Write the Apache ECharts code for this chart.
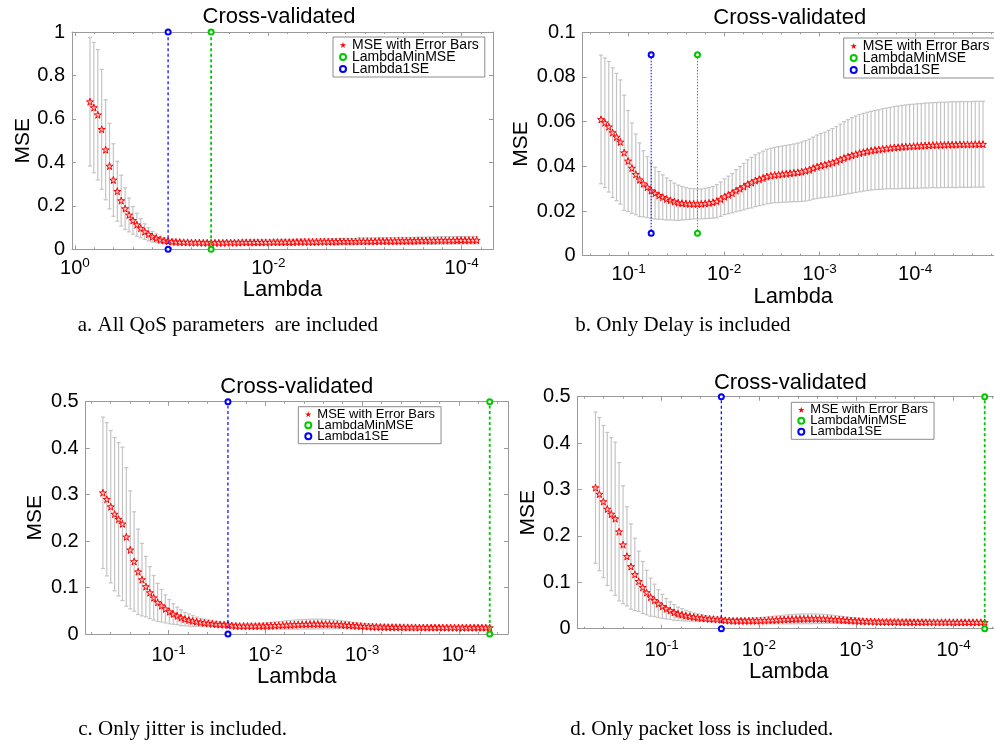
<!DOCTYPE html>
<html><head><meta charset="utf-8">
<script src="https://cdn.jsdelivr.net/npm/echarts@6/dist/echarts.min.js"></script>
<style>html,body{margin:0;padding:0;background:#fff}#c{width:994px;height:745px}</style>
</head><body><div id="c"></div><script>
// ---------- DATA (x values are log10(Lambda)) ----------
const lambdaAll = [-0.155,-0.195,-0.236,-0.276,-0.317,-0.357,-0.397,-0.438,-0.478,-0.519,
-0.559,-0.599,-0.640,-0.680,-0.721,-0.761,-0.801,-0.842,-0.882,-0.923,
-0.963,-1.003,-1.044,-1.084,-1.125,-1.165,-1.205,-1.246,-1.286,-1.327,
-1.367,-1.408,-1.448,-1.488,-1.529,-1.569,-1.610,-1.650,-1.690,-1.731,
-1.771,-1.812,-1.852,-1.892,-1.933,-1.973,-2.014,-2.054,-2.094,-2.135,
-2.175,-2.216,-2.256,-2.296,-2.337,-2.377,-2.418,-2.458,-2.498,-2.539,
-2.579,-2.620,-2.660,-2.700,-2.741,-2.781,-2.822,-2.862,-2.902,-2.943,
-2.983,-3.024,-3.064,-3.104,-3.145,-3.185,-3.226,-3.266,-3.307,-3.347,
-3.387,-3.428,-3.468,-3.509,-3.549,-3.589,-3.630,-3.670,-3.711,-3.751,
-3.791,-3.832,-3.872,-3.913,-3.953,-3.993,-4.034,-4.074,-4.115,-4.155];
const mseAll = [0.679,0.652,0.619,0.552,0.458,0.383,0.319,0.267,0.224,0.187,
0.158,0.133,0.113,0.097,0.081,0.069,0.058,0.051,0.044,0.040,
0.037,0.035,0.034,0.033,0.032,0.032,0.031,0.031,0.031,0.030,
0.030,0.030,0.030,0.030,0.030,0.031,0.031,0.031,0.031,0.032,
0.032,0.032,0.032,0.032,0.032,0.032,0.032,0.033,0.033,0.033,
0.033,0.033,0.033,0.034,0.034,0.034,0.034,0.034,0.034,0.035,
0.035,0.035,0.035,0.035,0.036,0.036,0.036,0.036,0.036,0.037,
0.037,0.037,0.037,0.037,0.038,0.038,0.038,0.038,0.038,0.039,
0.039,0.039,0.039,0.039,0.040,0.040,0.040,0.040,0.040,0.041,
0.041,0.041,0.041,0.041,0.042,0.042,0.042,0.042,0.042,0.042];
const seAll = [0.296,0.300,0.300,0.276,0.230,0.197,0.167,0.138,0.117,0.096,
0.078,0.064,0.053,0.044,0.036,0.030,0.024,0.020,0.016,0.013,
0.011,0.010,0.009,0.009,0.008,0.008,0.008,0.008,0.008,0.008,
0.008,0.008,0.008,0.008,0.009,0.009,0.009,0.009,0.010,0.010,
0.010,0.011,0.011,0.011,0.011,0.011,0.011,0.011,0.012,0.012,
0.012,0.012,0.012,0.012,0.012,0.013,0.013,0.013,0.013,0.013,
0.013,0.013,0.014,0.014,0.014,0.014,0.014,0.014,0.014,0.015,
0.015,0.015,0.015,0.015,0.015,0.015,0.015,0.016,0.016,0.016,
0.016,0.016,0.016,0.016,0.016,0.016,0.016,0.017,0.017,0.017,
0.017,0.017,0.017,0.017,0.017,0.017,0.017,0.017,0.017,0.017];
const lambdaMinAll = -1.408, lambda1seAll = -0.963;

const lambdaDelay = [-0.710,-0.750,-0.791,-0.831,-0.872,-0.912,-0.952,-0.993,-1.033,-1.074,
-1.114,-1.154,-1.195,-1.235,-1.276,-1.316,-1.356,-1.397,-1.437,-1.478,
-1.518,-1.558,-1.599,-1.639,-1.680,-1.720,-1.760,-1.801,-1.841,-1.882,
-1.922,-1.963,-2.003,-2.043,-2.084,-2.124,-2.165,-2.205,-2.245,-2.286,
-2.326,-2.367,-2.407,-2.447,-2.488,-2.528,-2.569,-2.609,-2.649,-2.690,
-2.730,-2.771,-2.811,-2.851,-2.892,-2.932,-2.973,-3.013,-3.053,-3.094,
-3.134,-3.175,-3.215,-3.255,-3.296,-3.336,-3.377,-3.417,-3.457,-3.498,
-3.538,-3.579,-3.619,-3.659,-3.700,-3.740,-3.781,-3.821,-3.862,-3.902,
-3.942,-3.983,-4.023,-4.064,-4.104,-4.144,-4.185,-4.225,-4.266,-4.306,
-4.346,-4.387,-4.427,-4.468,-4.508,-4.548,-4.589,-4.629,-4.670,-4.710];
const mseDelay = [0.0610,0.0595,0.0577,0.0551,0.0531,0.0509,0.0461,0.0424,0.0392,0.0364,
0.0340,0.0322,0.0307,0.0291,0.0280,0.0270,0.0262,0.0254,0.0248,0.0242,
0.0237,0.0235,0.0233,0.0232,0.0232,0.0232,0.0232,0.0234,0.0236,0.0239,
0.0244,0.0253,0.0264,0.0272,0.0280,0.0291,0.0300,0.0309,0.0320,0.0327,
0.0336,0.0342,0.0348,0.0354,0.0358,0.0361,0.0363,0.0365,0.0367,0.0369,
0.0371,0.0373,0.0376,0.0380,0.0385,0.0392,0.0398,0.0403,0.0407,0.0412,
0.0417,0.0423,0.0430,0.0437,0.0443,0.0449,0.0454,0.0459,0.0463,0.0467,
0.0470,0.0473,0.0475,0.0478,0.0480,0.0482,0.0484,0.0485,0.0487,0.0488,
0.0489,0.0490,0.0491,0.0492,0.0493,0.0494,0.0495,0.0495,0.0496,0.0496,
0.0497,0.0497,0.0497,0.0498,0.0498,0.0498,0.0498,0.0499,0.0499,0.0499];
const seDelay = [0.0288,0.0290,0.0292,0.0290,0.0285,0.0278,0.0258,0.0226,0.0202,0.0181,
0.0165,0.0148,0.0137,0.0125,0.0116,0.0107,0.0100,0.0094,0.0088,0.0083,
0.0079,0.0075,0.0072,0.0069,0.0068,0.0067,0.0067,0.0068,0.0069,0.0071,
0.0074,0.0077,0.0080,0.0084,0.0088,0.0094,0.0099,0.0104,0.0109,0.0113,
0.0116,0.0118,0.0120,0.0122,0.0123,0.0124,0.0125,0.0126,0.0127,0.0128,
0.0129,0.0131,0.0133,0.0135,0.0137,0.0139,0.0142,0.0144,0.0146,0.0149,
0.0152,0.0155,0.0159,0.0163,0.0166,0.0169,0.0171,0.0173,0.0174,0.0175,
0.0176,0.0177,0.0178,0.0180,0.0181,0.0182,0.0184,0.0185,0.0186,0.0187,
0.0188,0.0188,0.0189,0.0189,0.0190,0.0190,0.0190,0.0191,0.0191,0.0191,
0.0191,0.0192,0.0192,0.0192,0.0192,0.0192,0.0192,0.0192,0.0192,0.0192];
const lambdaMinDelay = -1.720, lambda1seDelay = -1.235;

const lambdaJitter = [-0.320,-0.360,-0.401,-0.441,-0.482,-0.522,-0.562,-0.603,-0.643,-0.684,
-0.724,-0.764,-0.805,-0.845,-0.886,-0.926,-0.966,-1.007,-1.047,-1.088,
-1.128,-1.168,-1.209,-1.249,-1.290,-1.330,-1.370,-1.411,-1.451,-1.492,
-1.532,-1.573,-1.613,-1.653,-1.694,-1.734,-1.775,-1.815,-1.855,-1.896,
-1.936,-1.977,-2.017,-2.057,-2.098,-2.138,-2.179,-2.219,-2.259,-2.300,
-2.340,-2.381,-2.421,-2.461,-2.502,-2.542,-2.583,-2.623,-2.663,-2.704,
-2.744,-2.785,-2.825,-2.865,-2.906,-2.946,-2.987,-3.027,-3.067,-3.108,
-3.148,-3.189,-3.229,-3.269,-3.310,-3.350,-3.391,-3.431,-3.472,-3.512,
-3.552,-3.593,-3.633,-3.674,-3.714,-3.754,-3.795,-3.835,-3.876,-3.916,
-3.956,-3.997,-4.037,-4.078,-4.118,-4.158,-4.199,-4.239,-4.280,-4.320];
const mseJitter = [0.304,0.290,0.274,0.258,0.247,0.237,0.209,0.181,0.156,0.134,
0.117,0.102,0.089,0.078,0.068,0.061,0.054,0.048,0.043,0.039,
0.035,0.032,0.030,0.028,0.0265,0.025,0.024,0.023,0.022,0.021,
0.0205,0.020,0.0195,0.018,0.0175,0.017,0.017,0.017,0.017,0.017,
0.0172,0.0172,0.0175,0.0178,0.0182,0.0186,0.0190,0.0194,0.0198,0.0202,
0.0205,0.0208,0.0210,0.0212,0.0213,0.0214,0.0214,0.0213,0.0211,0.0208,
0.0204,0.0199,0.0193,0.0187,0.0181,0.0175,0.0170,0.0165,0.0161,0.0157,
0.0154,0.0151,0.0149,0.0147,0.0146,0.0145,0.0144,0.0143,0.0142,0.0142,
0.0141,0.0140,0.0140,0.0140,0.0139,0.0139,0.0139,0.0138,0.0138,0.0138,
0.0138,0.0137,0.0137,0.0137,0.0137,0.0137,0.0137,0.0137,0.0137,0.0136];
const seJitter = [0.163,0.165,0.164,0.165,0.165,0.165,0.149,0.127,0.107,0.092,
0.078,0.065,0.056,0.048,0.041,0.035,0.030,0.026,0.022,0.019,
0.0170,0.0145,0.0130,0.0115,0.0100,0.0088,0.0078,0.0070,0.0063,0.0057,
0.0052,0.0048,0.0045,0.0044,0.0044,0.0045,0.0046,0.0048,0.0050,0.0053,
0.0056,0.0060,0.0065,0.0070,0.0075,0.0080,0.0085,0.0090,0.0094,0.0097,
0.0100,0.0102,0.0104,0.0105,0.0105,0.0105,0.0104,0.0102,0.0099,0.0095,
0.0090,0.0085,0.0080,0.0075,0.0070,0.0066,0.0062,0.0059,0.0056,0.0054,
0.0052,0.0051,0.0050,0.0049,0.0048,0.0048,0.0047,0.0047,0.0047,0.0046,
0.0046,0.0046,0.0046,0.0046,0.0046,0.0046,0.0046,0.0046,0.0046,0.0046,
0.0046,0.0046,0.0046,0.0046,0.0046,0.0046,0.0046,0.0046,0.0046,0.0046];
const lambdaMinJitter = -4.320, lambda1seJitter = -1.613;

const lambdaLoss = [-0.320,-0.360,-0.401,-0.441,-0.482,-0.522,-0.562,-0.603,-0.643,-0.684,
-0.724,-0.764,-0.805,-0.845,-0.886,-0.926,-0.966,-1.007,-1.047,-1.088,
-1.128,-1.168,-1.209,-1.249,-1.290,-1.330,-1.370,-1.411,-1.451,-1.492,
-1.532,-1.573,-1.613,-1.653,-1.694,-1.734,-1.775,-1.815,-1.855,-1.896,
-1.936,-1.977,-2.017,-2.057,-2.098,-2.138,-2.179,-2.219,-2.259,-2.300,
-2.340,-2.381,-2.421,-2.461,-2.502,-2.542,-2.583,-2.623,-2.663,-2.704,
-2.744,-2.785,-2.825,-2.865,-2.906,-2.946,-2.987,-3.027,-3.067,-3.108,
-3.148,-3.189,-3.229,-3.269,-3.310,-3.350,-3.391,-3.431,-3.472,-3.512,
-3.552,-3.593,-3.633,-3.674,-3.714,-3.754,-3.795,-3.835,-3.876,-3.916,
-3.956,-3.997,-4.037,-4.078,-4.118,-4.158,-4.199,-4.239,-4.280,-4.320];
const mseLoss = [0.304,0.290,0.274,0.258,0.247,0.237,0.209,0.181,0.156,0.134,
0.117,0.102,0.089,0.078,0.068,0.061,0.054,0.048,0.043,0.039,
0.035,0.032,0.030,0.028,0.0265,0.025,0.024,0.023,0.022,0.021,
0.0205,0.020,0.0195,0.018,0.0175,0.017,0.017,0.017,0.017,0.017,
0.0172,0.0172,0.0175,0.0178,0.0182,0.0186,0.0190,0.0194,0.0198,0.0202,
0.0205,0.0208,0.0210,0.0212,0.0213,0.0214,0.0214,0.0213,0.0211,0.0208,
0.0204,0.0199,0.0193,0.0187,0.0181,0.0175,0.0170,0.0165,0.0161,0.0157,
0.0154,0.0151,0.0149,0.0147,0.0146,0.0145,0.0144,0.0143,0.0142,0.0142,
0.0141,0.0140,0.0140,0.0140,0.0139,0.0139,0.0139,0.0138,0.0138,0.0138,
0.0138,0.0137,0.0137,0.0137,0.0137,0.0137,0.0137,0.0137,0.0137,0.0136];
const seLoss = [0.163,0.165,0.164,0.165,0.165,0.165,0.149,0.127,0.107,0.092,
0.078,0.065,0.056,0.048,0.041,0.035,0.030,0.026,0.022,0.019,
0.0170,0.0145,0.0130,0.0115,0.0100,0.0088,0.0078,0.0070,0.0063,0.0057,
0.0052,0.0048,0.0045,0.0044,0.0044,0.0045,0.0046,0.0048,0.0050,0.0053,
0.0056,0.0060,0.0065,0.0070,0.0075,0.0080,0.0085,0.0090,0.0094,0.0097,
0.0100,0.0102,0.0104,0.0105,0.0105,0.0105,0.0104,0.0102,0.0099,0.0095,
0.0090,0.0085,0.0080,0.0075,0.0070,0.0066,0.0062,0.0059,0.0056,0.0054,
0.0052,0.0051,0.0050,0.0049,0.0048,0.0048,0.0047,0.0047,0.0047,0.0046,
0.0046,0.0046,0.0046,0.0046,0.0046,0.0046,0.0046,0.0046,0.0046,0.0046,
0.0046,0.0046,0.0046,0.0046,0.0046,0.0046,0.0046,0.0046,0.0046,0.0046];
const lambdaMinLoss = -4.320, lambda1seLoss = -1.613;

const titles = ['Cross-validated','Cross-validated','Cross-validated','Cross-validated'];
const captions = ['a. All QoS parameters  are included','b. Only Delay is included','c. Only jitter is included.','d. Only packet loss is included.'];
const legendNames = ['MSE with Error Bars','LambdaMinMSE','Lambda1SE'];

// ---------- LAYOUT ----------
const SANS = 'Liberation Sans';
const STAR = 'path://M0,-10L2.245,-3.09L9.51,-3.09L3.63,1.18L5.88,8.09L0,3.82L-5.88,8.09L-3.63,1.18L-9.51,-3.09L-2.245,-3.09Z';
const panels = [
  {lam:lambdaAll, mse:mseAll, se:seAll, lmin:lambdaMinAll, l1se:lambda1seAll, lineY:[0,1], dash:[3,2.5], wB:1.2, wG:1.8,
   grid:{left:72, top:32, width:421, height:217.3}, xr:[-4.324,0.031], xsplit:2, yr:[0,1], yint:0.2,
   yGap:38, xGap:24, xMargin:7, leg:[333,37], legFont:14, title:[279,17], cap:[77.7,325.5]},
  {lam:lambdaDelay, mse:mseDelay, se:seDelay, lmin:lambdaMinDelay, l1se:lambda1seDelay, lineY:[0.01,0.09], dash:[1.5,1.5], wB:1, wG:1,
   grid:{left:582.7, top:32.3, width:421.3, height:223.4}, xr:[-4.93,-0.518], xsplit:5, yr:[0,0.1], yint:0.02,
   yGap:51, xGap:24, xMargin:7, leg:[843.7,38], legFont:14, title:[789.7,17.5], cap:[575.3,325.5]},
  {lam:lambdaJitter, mse:mseJitter, se:seJitter, lmin:lambdaMinJitter, l1se:lambda1seJitter, lineY:[0,0.5], dash:[3,2.5], wB:1.2, wG:1.8,
   grid:{left:85.7, top:401.7, width:422.3, height:232.3}, xr:[-4.509,-0.142], xsplit:5, yr:[0,0.5], yint:0.1,
   yGap:40, xGap:24, xMargin:9, leg:[298.3,406.7], legFont:13, title:[296.7,386.8], cap:[78.3,729.2]},
  {lam:lambdaLoss, mse:mseLoss, se:seLoss, lmin:lambdaMinLoss, l1se:lambda1seLoss, lineY:[0,0.5], dash:[3,2.5], wB:1.2, wG:1.8,
   grid:{left:577.7, top:396.7, width:422.3, height:232}, xr:[-4.477,-0.137], xsplit:5, yr:[0,0.5], yint:0.1,
   yGap:39, xGap:24, xMargin:9.5, leg:[791.3,402.3], legFont:13, title:[790.3,382.5], cap:[570.3,729.2]}
];

const AX = '#9a9a9a';
function xLabel(v){
  const r = Math.round(v);
  if (Math.abs(v - r) > 1e-6) return '';
  return '10{s|' + r + '}';
}
function errRender(params, api){
  const x = api.value(0);
  const t = api.coord([x, api.value(2)]);
  const b = api.coord([x, api.value(1)]);
  const h = 2;
  const mk = (x1,y1,x2,y2)=>({type:'line', shape:{x1,y1,x2,y2}, style:{stroke:'#c4c4c4', lineWidth:1.2}});
  return {type:'group', children:[mk(t[0],t[1],b[0],b[1]), mk(t[0]-h,t[1],t[0]+h,t[1]), mk(b[0]-h,b[1],b[0]+h,b[1])]};
}

const grids=[], xAxes=[], yAxes=[], series=[], legends=[], graphics=[];
panels.forEach((p, k)=>{
  grids.push(Object.assign({containLabel:false, outerBoundsMode:'none', show:false}, p.grid));
  const xBase = {type:'value', gridIndex:k, min:p.xr[0], max:p.xr[1], inverse:true, splitNumber:p.xsplit,
    splitLine:{show:false}, axisLine:{show:true, onZero:false, lineStyle:{color:AX, width:1}},
    axisTick:{show:true, inside:true, length:4, lineStyle:{color:AX}},
    minorTick:{show:true, splitNumber:p.xsplit===2?10:5, length:2, lineStyle:{color:AX}}};
  xAxes.push(Object.assign({}, xBase, {position:'bottom',
    name:'Lambda', nameLocation:'middle', nameGap:p.xGap,
    nameTextStyle:{fontFamily:SANS, fontSize:22, color:'#000'},
    axisLabel:{show:true, margin:p.xMargin, formatter:xLabel, fontFamily:SANS, fontSize:20, color:'#000',
      rich:{s:{fontFamily:SANS, fontSize:13.5, color:'#000', padding:[0,0,10,0]}}}}));
  xAxes.push(Object.assign({}, xBase, {position:'top', axisLabel:{show:false}}));
  const yBase = {type:'value', gridIndex:k, min:p.yr[0], max:p.yr[1], interval:p.yint,
    splitLine:{show:false}, axisLine:{show:true, onZero:false, lineStyle:{color:AX, width:1}},
    axisTick:{show:true, inside:true, length:4, lineStyle:{color:AX}}};
  yAxes.push(Object.assign({}, yBase, {position:'left', name:'MSE', nameLocation:'middle', nameGap:p.yGap,
    nameTextStyle:{fontFamily:SANS, fontSize:21, color:'#000'},
    axisLabel:{show:true, margin:7, fontFamily:SANS, fontSize:20, color:'#000'}}));
  yAxes.push(Object.assign({}, yBase, {position:'right', axisLabel:{show:false}}));

  const xi = 2*k, yi = 2*k;
  series.push({type:'custom', name:'err'+k, xAxisIndex:xi, yAxisIndex:yi, renderItem:errRender, silent:true, z:2, clip:false,
    encode:{x:0, y:[1,2]}, data:p.lam.map((x,i)=>[x, p.mse[i]-p.se[i], p.mse[i]+p.se[i]])});
  series.push({type:'scatter', name:legendNames[0], xAxisIndex:xi, yAxisIndex:yi, silent:true, z:3,
    symbol:STAR, symbolSize:7, itemStyle:{color:'#ffc8c8', borderColor:'#ff0000', borderWidth:1, opacity:1},
    data:p.lam.map((x,i)=>[x, p.mse[i]])});
  series.push({type:'line', name:legendNames[1], xAxisIndex:xi, yAxisIndex:yi, silent:true, z:4, clip:false,
    symbol:'emptyCircle', symbolSize:5, lineStyle:{color:'#00c800', width:p.wG, type:p.dash},
    itemStyle:{color:'#00c800', borderWidth:1.2}, data:[[p.lmin, p.lineY[0]],[p.lmin, p.lineY[1]]]});
  series.push({type:'line', name:legendNames[2], xAxisIndex:xi, yAxisIndex:yi, silent:true, z:4, clip:false,
    symbol:'emptyCircle', symbolSize:5, lineStyle:{color:'#0000ff', width:p.wB, type:p.dash},
    itemStyle:{color:'#0000ff', borderWidth:1.2}, data:[[p.l1se, p.lineY[0]],[p.l1se, p.lineY[1]]]});

  legends.push({left:p.leg[0], top:p.leg[1], orient:'vertical', itemGap:-2, itemWidth:8, itemHeight:6, itemTextGap:8,
    padding:[1,6,1,6], borderColor:'#8c8c8c', borderWidth:1, borderRadius:0, backgroundColor:'#fff', selectedMode:false, z:10,
    textStyle:{fontFamily:SANS, fontSize:p.legFont, color:'#000', lineHeight:12},
    data:[{name:legendNames[0], icon:STAR, itemStyle:{color:'#ff0000', borderWidth:0}},
          {name:legendNames[1], icon:'emptyCircle', itemStyle:{borderWidth:0.8}, lineStyle:{opacity:0}},
          {name:legendNames[2], icon:'emptyCircle', itemStyle:{borderWidth:0.8}, lineStyle:{opacity:0}}]});

  graphics.push({type:'text', x:p.title[0], y:p.title[1], z:20,
    style:{text:titles[k], fontFamily:SANS, fontSize:22, fill:'#000', align:'center', verticalAlign:'middle'}});
  graphics.push({type:'text', x:p.cap[0], y:p.cap[1], z:20,
    style:{text:captions[k], fontFamily:'Liberation Serif', fontSize:21, fill:'#000', align:'left', verticalAlign:'middle'}});
});

const chart = echarts.init(document.getElementById('c'), null, {renderer:'canvas'});
chart.setOption({
  animation:false, backgroundColor:'#fff',
  grid:grids, xAxis:xAxes, yAxis:yAxes, series:series, legend:legends, graphic:graphics
});
</script></body></html>
